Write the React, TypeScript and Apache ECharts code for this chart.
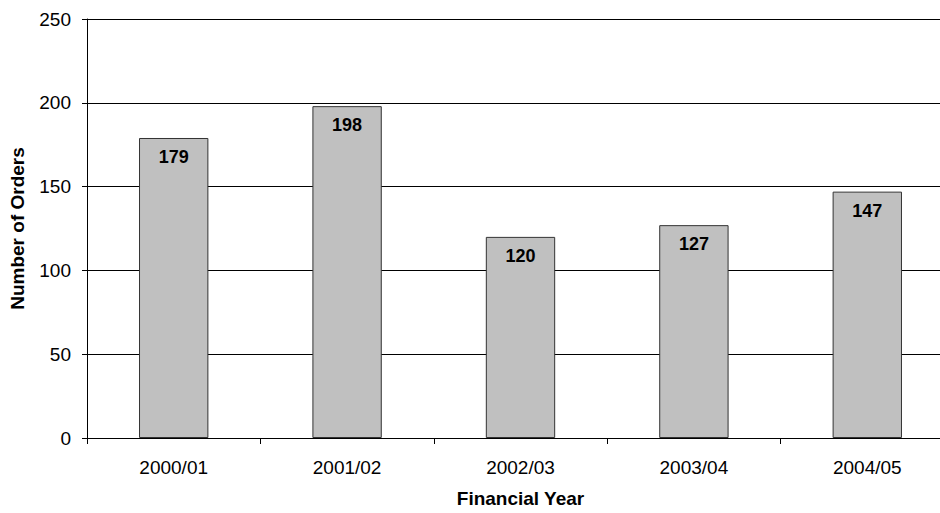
import React, { useEffect, useRef } from "react";
import * as echarts from "echarts";

const categories = ["2000/01", "2001/02", "2002/03", "2003/04", "2004/05"];
const orders = [179, 198, 120, 127, 147];
const yTicks = { min: 0, max: 250, interval: 50 };

export default function App() {
  const ref = useRef<HTMLDivElement>(null);
  useEffect(() => {
    document.body.style.margin = "0";
    document.body.style.overflow = "hidden";
    if (!ref.current) return;
    const chart = echarts.init(ref.current, null, { renderer: "svg" });
    const font = "'Liberation Sans', Arial, sans-serif";
    chart.setOption({
      animation: false,
      backgroundColor: "#ffffff",
      grid: { left: 84, top: 19, bottom: 69, right: 0, containLabel: false },
      xAxis: {
        type: "category",
        data: categories,
        name: "Financial Year",
        nameLocation: "middle",
        nameGap: 51,
        nameTextStyle: { fontFamily: font, fontSize: 19, fontWeight: "bold", color: "#000" },
        axisLine: { lineStyle: { color: "#000", width: 1 } },
        axisTick: { show: true, length: 6, lineStyle: { color: "#000" } },
        axisLabel: { fontFamily: font, fontSize: 19, color: "#000", margin: 20 },
      },
      yAxis: {
        type: "value",
        min: yTicks.min,
        max: yTicks.max,
        interval: yTicks.interval,
        name: "Number of Orders",
        nameLocation: "middle",
        nameGap: 60,
        nameRotate: 90,
        nameTextStyle: { fontFamily: font, fontSize: 19, fontWeight: "bold", color: "#000" },
        axisLine: { show: true, lineStyle: { color: "#000", width: 1 } },
        axisTick: { show: true, length: 5, lineStyle: { color: "#000" } },
        axisLabel: { fontFamily: font, fontSize: 19, color: "#000", margin: 16 },
        splitLine: { show: true, lineStyle: { color: "#000", width: 1 } },
      },
      series: [
        {
          type: "bar",
          data: orders,
          barWidth: "40%",
          itemStyle: { color: "#c0c0c0", borderColor: "#333", borderWidth: 1 },
          label: {
            show: true,
            position: "insideTop",
            distance: 10,
            fontFamily: font,
            fontSize: 18,
            fontWeight: "bold",
            color: "#000",
          },
        },
      ],
    });
    return () => chart.dispose();
  }, []);
  return (
    <div style={{ width: 940, height: 513, overflow: "hidden", background: "#fff" }}>
      <div ref={ref} style={{ width: 954, height: 513 }} />
    </div>
  );
}
